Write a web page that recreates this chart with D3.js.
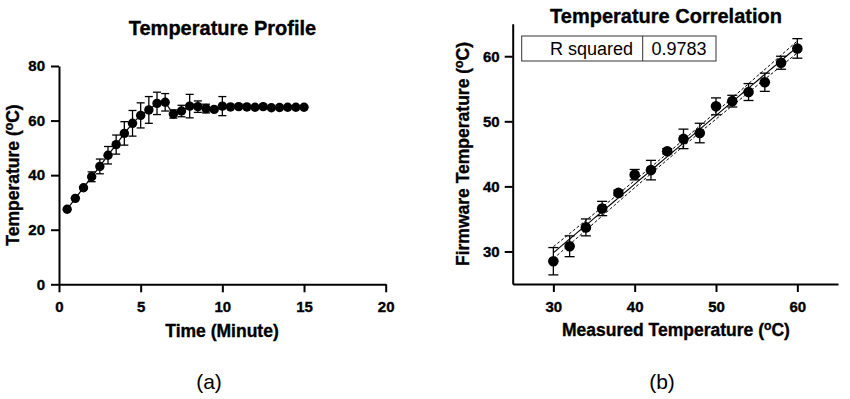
<!DOCTYPE html>
<html lang="en">
<head>
<meta charset="utf-8">
<title>Temperature Profile / Correlation</title>
<script src="https://cdn.jsdelivr.net/npm/d3@7"></script>
<style>
  body { margin: 0; background: #fff; }
  svg { display: block; font-family: "Liberation Sans", Arial, sans-serif; }
  .heavy { font-weight: bold; stroke: #000; stroke-width: 0.35px; }
</style>
</head>
<body>
<svg id="chart" width="850" height="399"></svg>
<script>
// (a) temperature profile
var profileTime = [0.5, 1, 1.5, 2, 2.5, 3, 3.5, 4, 4.5, 5, 5.5, 6, 6.5, 7, 7.5,
                   8, 8.5, 9, 9.5, 10, 10.5, 11, 11.5, 12, 12.5, 13, 13.5, 14, 14.5, 15];
var profileTemp = [27.5, 31.5, 35.4, 39.4, 43.2, 47.3, 51.2, 55.3, 59.0, 61.9, 63.9, 66.3, 66.7, 62.4, 63.5,
                   65.3, 65.1, 64.4, 64.1, 65.3, 65.0, 65.1, 65.0, 64.9, 65.1, 64.7, 64.8, 64.9, 64.9, 64.9];
var profileErr  = [0, 0, 0, 1.8, 2.7, 3.2, 3.5, 4.3, 4.7, 4.6, 4.9, 4.1, 3.2, 1.5, 2.1,
                   4.3, 2.1, 1.6, 0.5, 3.5, 0, 0, 0, 0, 0, 0, 0, 0, 0, 0];
var profileXTicks = [0, 5, 10, 15, 20];
var profileYTicks = [0, 20, 40, 60, 80];

// (b) temperature correlation
var measuredTemp = [30, 32, 34, 36, 38, 40, 42, 44, 46, 48, 50, 52, 54, 56, 58, 60];
var firmwareTemp = [28.5, 30.8, 33.7, 36.6, 39.0, 41.8, 42.5, 45.4, 47.3, 48.2, 52.3, 53.1, 54.5, 56.0, 59.0, 61.2];
var firmwareErr  = [2.1, 1.6, 1.3, 1.1, 0.4, 0.8, 1.5, 0.4, 1.5, 1.5, 1.3, 0.9, 1.3, 1.4, 1.0, 1.5];
var corrTicks = [30, 40, 50, 60];
var rSquaredLabel = "R squared";
var rSquaredValue = "0.9783";

var svg = d3.select("#chart");
svg.append("rect").attr("width", 850).attr("height", 399).attr("fill", "#fff");

// style an axis group the way the figure does
function style_axis(g) {
  g.attr("font-family", null).attr("font-size", null);
  g.select(".domain").attr("stroke", "#000").attr("stroke-width", 2);
  g.selectAll(".tick line").attr("stroke", "#000").attr("stroke-width", 2);
  g.selectAll(".tick text")
    .attr("fill", "#000")
    .attr("class", "heavy")
    .style("font-size", "15px");
}

// axis title with a superscript "o" before C
function deg_label(sel, before) {
  sel.append("tspan").text(before + "(");
  sel.append("tspan").attr("font-size", "0.7em").attr("baseline-shift", "50%").text("o");
  sel.append("tspan").text("C)");
}

/* ---------- panel (a) ---------- */
var xa = d3.scaleLinear().domain([0, 20]).range([59, 385.7]);
var ya = d3.scaleLinear().domain([0, 80]).range([284.3, 66]);

svg.append("g")
  .attr("transform", "translate(0," + ya(0) + ")")
  .call(d3.axisBottom(xa).tickValues(profileXTicks).tickSize(8).tickSizeOuter(0).tickPadding(9))
  .call(style_axis);

svg.append("g")
  .attr("transform", "translate(" + xa(0) + ",0)")
  .call(d3.axisLeft(ya).tickValues(profileYTicks).tickSize(8).tickSizeOuter(0).tickPadding(6))
  .call(style_axis);

var profile = profileTime.map(function(t, i) {
  return {x: t, y: profileTemp[i], e: profileErr[i]};
});

svg.append("path")
  .datum(profile)
  .attr("fill", "none")
  .attr("stroke", "#000")
  .attr("stroke-width", 1.2)
  .attr("d", d3.line().x(function(d) { return xa(d.x); }).y(function(d) { return ya(d.y); }));

var errA = svg.append("g").attr("stroke", "#000").attr("stroke-width", 1.3);
profile.filter(function(d) { return d.e > 0; }).forEach(function(d) {
  var cx = xa(d.x);
  errA.append("line").attr("x1", cx).attr("x2", cx).attr("y1", ya(d.y - d.e)).attr("y2", ya(d.y + d.e));
  [d.y - d.e, d.y + d.e].forEach(function(v) {
    errA.append("line").attr("x1", cx - 4).attr("x2", cx + 4).attr("y1", ya(v)).attr("y2", ya(v));
  });
});

svg.append("g").selectAll("circle")
  .data(profile)
  .join("circle")
  .attr("cx", function(d) { return xa(d.x); })
  .attr("cy", function(d) { return ya(d.y); })
  .attr("r", 4.7)
  .attr("fill", "#000");

svg.append("text")
  .attr("class", "heavy")
  .attr("x", 222.5).attr("y", 35)
  .attr("text-anchor", "middle")
  .style("font-size", "20px")
  .text("Temperature Profile");

svg.append("text")
  .attr("class", "heavy")
  .attr("x", 222).attr("y", 336.5)
  .attr("text-anchor", "middle")
  .style("font-size", "17.5px")
  .text("Time (Minute)");

svg.append("text")
  .attr("class", "heavy")
  .attr("transform", "translate(19,175) rotate(-90)")
  .attr("text-anchor", "middle")
  .style("font-size", "17.5px")
  .call(deg_label, "Temperature ");

svg.append("text")
  .attr("x", 209).attr("y", 389)
  .attr("text-anchor", "middle")
  .style("font-size", "21px")
  .text("(a)");

/* ---------- panel (b) ---------- */
var xb = d3.scaleLinear().domain([25, 65]).range([512.7, 838]);
var yb = d3.scaleLinear().domain([25, 65]).range([284, 23.7]);

svg.append("g")
  .attr("transform", "translate(0," + yb(25) + ")")
  .call(d3.axisBottom(xb).tickValues(corrTicks).tickSize(8).tickSizeOuter(0).tickPadding(9))
  .call(style_axis);

svg.append("g")
  .attr("transform", "translate(" + xb(25) + ",0)")
  .call(d3.axisLeft(yb).tickValues(corrTicks).tickSize(8).tickSizeOuter(0).tickPadding(5))
  .call(style_axis);

var corr = measuredTemp.map(function(m, i) {
  return {x: m, y: firmwareTemp[i], e: firmwareErr[i]};
});

// least squares fit and its 95% confidence band, from the points above
var n = corr.length;
var mx = d3.mean(corr, function(d) { return d.x; });
var my = d3.mean(corr, function(d) { return d.y; });
var sxx = d3.sum(corr, function(d) { return (d.x - mx) * (d.x - mx); });
var sxy = d3.sum(corr, function(d) { return (d.x - mx) * (d.y - my); });
var slope = sxy / sxx;
var icpt = my - slope * mx;
var sres = Math.sqrt(d3.sum(corr, function(d) {
  var r = d.y - (icpt + slope * d.x);
  return r * r;
}) / (n - 2));
var tCrit = 2.145; // t(0.975, 14)

var fitX = d3.extent(measuredTemp);
var fitPts = d3.range(fitX[0], fitX[1] + 0.001, 0.5).map(function(x) {
  var yhat = icpt + slope * x;
  var h = tCrit * sres * Math.sqrt(1 / n + (x - mx) * (x - mx) / sxx);
  return {x: x, y: yhat, lo: yhat - h, hi: yhat + h};
});

var fitG = svg.append("g").attr("fill", "none").attr("stroke", "#000");
fitG.append("path")
  .datum(fitPts).attr("stroke-width", 1.1)
  .attr("d", d3.line().x(function(d) { return xb(d.x); }).y(function(d) { return yb(d.y); }));
["lo", "hi"].forEach(function(k) {
  fitG.append("path")
    .datum(fitPts).attr("stroke-width", 1).attr("stroke-dasharray", "3,2")
    .attr("d", d3.line().x(function(d) { return xb(d.x); }).y(function(d) { return yb(d[k]); }));
});

var errB = svg.append("g").attr("stroke", "#000").attr("stroke-width", 1.3);
corr.forEach(function(d) {
  var cx = xb(d.x);
  errB.append("line").attr("x1", cx).attr("x2", cx).attr("y1", yb(d.y - d.e)).attr("y2", yb(d.y + d.e));
  [d.y - d.e, d.y + d.e].forEach(function(v) {
    errB.append("line").attr("x1", cx - 5).attr("x2", cx + 5).attr("y1", yb(v)).attr("y2", yb(v));
  });
});

svg.append("g").selectAll("circle")
  .data(corr)
  .join("circle")
  .attr("cx", function(d) { return xb(d.x); })
  .attr("cy", function(d) { return yb(d.y); })
  .attr("r", 5.3)
  .attr("fill", "#000");

// R squared box
var box = svg.append("g");
box.append("rect")
  .attr("x", 521.7).attr("y", 36).attr("width", 194.3).attr("height", 25)
  .attr("fill", "#fff").attr("stroke", "#333").attr("stroke-width", 1);
box.append("line")
  .attr("x1", 642.7).attr("x2", 642.7).attr("y1", 36).attr("y2", 61)
  .attr("stroke", "#333").attr("stroke-width", 1);
box.append("text")
  .attr("x", 633).attr("y", 54.5).attr("text-anchor", "end")
  .style("font-size", "18px").text(rSquaredLabel);
box.append("text")
  .attr("x", 651.5).attr("y", 54.5)
  .style("font-size", "18px").text(rSquaredValue);

svg.append("text")
  .attr("class", "heavy")
  .attr("x", 666).attr("y", 23)
  .attr("text-anchor", "middle")
  .style("font-size", "20px")
  .text("Temperature Correlation");

svg.append("text")
  .attr("class", "heavy")
  .attr("x", 676).attr("y", 336)
  .attr("text-anchor", "middle")
  .style("font-size", "17.5px")
  .call(deg_label, "Measured Temperature ");

svg.append("text")
  .attr("class", "heavy")
  .attr("transform", "translate(469,154) rotate(-90)")
  .attr("text-anchor", "middle")
  .style("font-size", "17.5px")
  .call(deg_label, "Firmware Temperature ");

svg.append("text")
  .attr("x", 662).attr("y", 389)
  .attr("text-anchor", "middle")
  .style("font-size", "21px")
  .text("(b)");
</script>
</body>
</html>
